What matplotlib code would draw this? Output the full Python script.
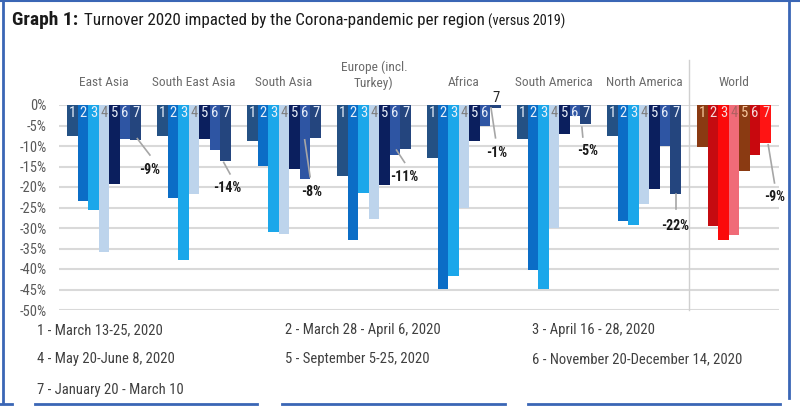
import matplotlib
matplotlib.use("Agg")
import matplotlib.pyplot as plt
from matplotlib.lines import Line2D
from matplotlib import font_manager
from matplotlib.font_manager import FontProperties
import numpy as np

available = {f.name for f in font_manager.fontManager.ttflist}
FONT = 'Roboto'
for cand in ['Liberation Sans Narrow', 'Roboto Condensed', 'Open Sans Condensed', 'Roboto']:
    if cand in available:
        FONT = cand
        break
plt.rcParams['font.family'] = [FONT, 'DejaVu Sans']

regions = ["East Asia", "South East Asia", "South Asia", "Europe (incl.\nTurkey)",
           "Africa", "South America", "North America", "World"]
s1 = [-7.5, -7.5, -8.7, -17.2, -13.0, -8.3, -7.5, -10.3]
s2 = [-23.3, -22.6, -14.8, -32.9, -44.8, -40.3, -28.4, -29.6]
s3 = [-25.6, -37.9, -31.0, -21.5, -41.6, -44.8, -29.2, -33.0]
s4 = [-35.9, -21.7, -31.4, -27.8, -25.0, -29.9, -24.1, -31.7]
s5 = [-19.3, -8.4, -15.7, -19.6, -8.8, -7.1, -20.5, -16.1]
s6 = [-8.4, -11.0, -18.1, -12.2, -5.0, -2.6, -10.0, -12.2]
s7 = [-8.6, -13.6, -8.0, -10.7, -0.7, -4.6, -21.6, -9.3]
series = [s1, s2, s3, s4, s5, s6, s7]
series_names = ["1", "2", "3", "4", "5", "6", "7"]
label7 = ["-9%", "-14%", "-8%", "-11%", "-1%", "-5%", "-22%", "-9%"]
legend_items = ["1 - March 13-25, 2020", "2 - March 28 - April 6, 2020", "3 - April 16 - 28, 2020",
                "4 - May 20-June 8, 2020", "5 - September 5-25, 2020", "6 - November 20-December 14, 2020",
                "7 - January 20 - March 10"]
yticks = [0, -5, -10, -15, -20, -25, -30, -35, -40, -45, -50]

blue_cols = ["#245184", "#0b6dc6", "#1ba7ea", "#bdd4ec", "#0b1f5e", "#2e55a3", "#24457e"]
red_cols = ["#8a3a12", "#c50b10", "#fb0a0a", "#f06b78", "#8a3a12", "#c8080e", "#ff1414"]
num_cols_blue = ["#e8eef8", "#e8eef8", "#e8eef8", "#7f7f7f", "#e8eef8", "#e8eef8", "#e8eef8"]
num_cols_red = ["#f8caa0", "#f6dada", "#f6dada", "#b06060", "#f8caa0", "#f6dada", "#f6dada"]

fig = plt.figure(figsize=(8, 4.08), dpi=100)
renderer = fig.canvas.get_renderer()


def fit(s, target_px, weight='normal'):
    fp = FontProperties(family=[FONT, 'DejaVu Sans'], size=10, weight=weight)
    w, h, d = renderer.get_text_width_height_descent(s, fp, ismath=False)
    return 10.0 * target_px / w


fs_region = fit("East Asia", 49)
fs_tick = fit("-50%", 27)
fs_leg = fit("1 - March 13-25, 2020", 124)
fs_val = fit("-22%", 28, 'bold')
fs_t1 = fit("Graph 1:", 66, 'bold')
fs_t2 = fit("Turnover 2020 impacted by the Corona-pandemic per region", 398)
fs_t3 = fit("(versus 2019)", 77)
fs_num = 10.5

ax = fig.add_axes([59/800, 1-310/408, 720/800, 205/408])

bw = 0.1167
x = np.arange(len(regions))
for j, s in enumerate(series):
    for i in range(len(regions)):
        col = red_cols[j] if i == 7 else blue_cols[j]
        xc = x[i] + (j - 3) * bw
        ax.bar(xc, s[i], width=bw, color=col, zorder=3)
        if i == 4 and j == 6:
            ax.text(xc, 1.7, series_names[j], ha='center', va='center', fontsize=fs_num, color='#262626', clip_on=False)
        else:
            nc = num_cols_red[j] if i == 7 else num_cols_blue[j]
            ax.text(xc, -2.0, series_names[j], ha='center', va='center', fontsize=fs_num, color=nc, zorder=4)

# value labels for series 7 with leader lines (offsets from group centre)
lab_pos = [(0.51, -15.9), (0.37, -20.2), (0.31, -21.2), (0.34, -17.6), (0.36, -11.7),
           (0.37, -11.2), (0.35, -29.5), (0.45, -22.4)]
lead = [((0.37, -8.2), (0.51, -12.2)), ((0.33, -14.0), (0.40, -16.8)),
        ((0.23, -8.5), (0.29, -17.5)), ((0.25, -11.0), (0.34, -14.0)),
        ((0.30, -0.7), (0.35, -8.0)), ((0.31, -5.4), (0.32, -7.8)),
        ((0.35, -21.8), (0.35, -25.3)), ((0.38, -9.7), (0.45, -19.0))]
for i in range(len(regions)):
    (x0, y0), (x1, y1) = lead[i]
    ax.plot([x[i] + x0, x[i] + x1], [y0, y1], color='#a6a6a6', lw=1.2, zorder=4, clip_on=False)
    ax.text(x[i] + lab_pos[i][0], lab_pos[i][1], label7[i], ha='center', va='center',
            fontsize=fs_val, color='#1a1a1a', fontweight='bold', zorder=5)

for i, r in enumerate(regions):
    if "\n" in r:
        l1, l2 = r.split("\n")
        ax.text(x[i], 9.3, l1, ha='center', va='center', fontsize=fs_region, color='#6b6b6b', clip_on=False)
        ax.text(x[i], 5.4, l2, ha='center', va='center', fontsize=fs_region, color='#6b6b6b', clip_on=False)
    else:
        ax.text(x[i], 5.4, r, ha='center', va='center', fontsize=fs_region, color='#6b6b6b', clip_on=False)

ax.plot([6.5, 6.5], [-50, 11], color='#d0d0d0', lw=1, clip_on=False, zorder=1)

ax.set_xlim(-0.5, 7.5)
ax.set_ylim(-50, 0)
ax.set_yticks(yticks)
ax.set_yticklabels([f"{t}%" for t in yticks], fontsize=fs_tick, color='#595959')
ax.yaxis.grid(True, color='#d9d9d9', lw=1.5, zorder=0)
ax.set_axisbelow(True)
ax.set_xticks([])
ax.tick_params(axis='y', length=0, pad=9)
for sp in ax.spines.values():
    sp.set_visible(False)

# title
fig.text(12/800, 1-20/408, "Graph 1:", fontsize=fs_t1, fontweight='bold', color='#1a1a1a', va='center')
fig.text(84/800, 1-20/408, "Turnover 2020 impacted by the Corona-pandemic per region",
         fontsize=fs_t2, color='#1a1a1a', va='center')
fig.text(488/800, 1-21/408, "(versus 2019)", fontsize=fs_t3, color='#1a1a1a', va='center')

# legend
cols_x = [37, 285, 532]
rows_y = [330, 359, 390]
for k, item in enumerate(legend_items):
    rr, cc = divmod(k, 3)
    fig.text(cols_x[cc]/800, 1-rows_y[rr]/408, item, fontsize=fs_leg, color='#404040', va='center')

# border decorations
bc = '#3a66b5'
fig.add_artist(Line2D([0, 1], [1-1/408, 1-1/408], color=bc, lw=1.5, transform=fig.transFigure))
fig.add_artist(Line2D([3/800, 3/800], [1-1/408, 1-402/408], color=bc, lw=2, transform=fig.transFigure))
fig.add_artist(Line2D([789/800, 789/800], [1-1/408, 1-398/408], color=bc, lw=2, transform=fig.transFigure))
for xa, xb in [(0, 12), (35, 257), (282, 505), (528, 780)]:
    fig.add_artist(Line2D([xa/800, xb/800], [1-404/408, 1-404/408], color=bc, lw=2, transform=fig.transFigure))

fig.savefig("out.png", dpi=100)
